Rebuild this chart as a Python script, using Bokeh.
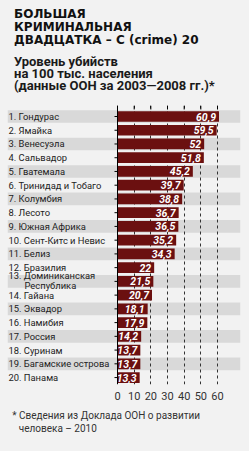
from bokeh.plotting import figure
from bokeh.layouts import column
from bokeh.models import Range1d, FixedTicker, ColumnDataSource
from bokeh.core.properties import value
from bokeh.embed import file_html
from bokeh.resources import INLINE

# ---------------- data ----------------
title_lines = ["БОЛЬШАЯ", "КРИМИНАЛЬНАЯ", "ДВАДЦАТКА – С (crime) 20"]
subtitle_lines = ["Уровень убийств", "на 100 тыс. населения",
                  "(данные ООН за 2003—2008 гг.)*"]
countries = ["Гондурас", "Ямайка", "Венесуэла", "Сальвадор", "Гватемала",
             "Тринидад и Тобаго", "Колумбия", "Лесото", "Южная Африка",
             "Сент-Китс и Невис", "Белиз", "Бразилия",
             "Доминиканская\nРеспублика", "Гайана", "Эквадор", "Намибия",
             "Россия", "Суринам", "Багамские острова", "Панама"]
rates = [60.9, 59.5, 52, 51.8, 45.2, 39.7, 38.8, 36.7, 36.5, 35.2, 34.3,
         22, 21.5, 20.7, 18.1, 17.9, 14.2, 13.7, 13.7, 13.3]
x_ticks = [0, 10, 20, 30, 40, 50, 60]
footnote_lines = ["* Сведения из Доклада ООН о развитии", "человека – 2010"]

# ---------------- style ----------------
BG = "#f2f2f2"
STRIPE = "#d9d9d9"
BAR = "#6b1010"
TXT = "#222222"
NARROW = value("Roboto")
W = 249
HEADER_H = 105
CHART_H = 299
FOOTER_H = 451 - HEADER_H - CHART_H
BOTTOM_PANEL = 20

def bare(fig):
    fig.axis.visible = False
    fig.grid.visible = False
    fig.outline_line_color = None
    fig.background_fill_color = BG
    fig.border_fill_color = BG
    fig.min_border = 0
    return fig

# ---------------- header ----------------
header = bare(figure(width=W, height=HEADER_H, x_range=Range1d(0, W),
                     y_range=Range1d(HEADER_H, 0), output_backend="svg",
                     toolbar_location=None, x_axis_location=None,
                     y_axis_location=None))
header.text(x=[7] * 3, y=[13, 26, 39], text=title_lines,
            text_font=value("DejaVu Sans"), text_font_style="bold",
            text_font_size="12px", text_color="#111111",
            text_baseline="middle", text_align="left")
header.text(x=[7] * 3, y=[61, 73, 85], text=subtitle_lines,
            text_font=value("Roboto"), text_font_style="bold",
            text_font_size="13px", text_color="#1a1a1a",
            text_baseline="middle", text_align="left")

# ---------------- chart ----------------
n = len(countries)
rows = list(range(1, n + 1))
px_per_unit = 100 / 60.0          # 10 units ~ 16.7 px
x0 = -110 / px_per_unit
x1 = 123 / px_per_unit
pitch = 13.74
frame_h = CHART_H - BOTTOM_PANEL
y_top = 1 - 11 / pitch
y_bot = y_top + frame_h / pitch

p = figure(width=W, height=CHART_H, x_range=Range1d(x0, x1),
           y_range=Range1d(y_bot, y_top), output_backend="svg",
           toolbar_location=None, y_axis_location=None)
p.min_border_left = 7
p.min_border_right = 9
p.min_border_top = 0
p.min_border_bottom = BOTTOM_PANEL
p.outline_line_color = None
p.background_fill_color = BG
p.border_fill_color = BG
p.ygrid.visible = False
p.xgrid.ticker = FixedTicker(ticks=[t for t in x_ticks if t > 0])
p.xgrid.grid_line_color = "#333333"
p.xgrid.grid_line_dash = "3 3"
p.xgrid.grid_line_width = 1

# x axis (bottom) labels only
p.xaxis.ticker = FixedTicker(ticks=x_ticks)
p.xaxis.axis_line_color = None
p.xaxis.major_tick_line_color = None
p.xaxis.minor_tick_line_color = None
p.xaxis.major_label_standoff = 1
p.xaxis.major_label_text_font = "Roboto"
p.xaxis.major_label_text_font_size = "11px"
p.xaxis.major_label_text_color = "#333333"

# stripes on odd rows
odd = [r for r in rows if r % 2 == 1]
stripes = p.rect(x=[(x0 + x1) / 2] * len(odd), y=odd, width=x1 - x0,
                 height=0.92, fill_color=STRIPE, line_color=None)
stripes.level = "image"

# bars
p.hbar(y=rows, left=0, right=rates, height=0.78, fill_color=BAR,
       line_color=None)

# value labels
vals = [f"{v:g}".replace(".", ",") for v in rates]
p.text(x=rates, y=rows, text=vals, x_offset=-3, text_font=NARROW,
       text_font_style="bold italic", text_font_size="10.5px",
       text_color="white", text_align="right", text_baseline="middle")

# category labels (left aligned at frame edge)
lab_x, lab_y, lab_t, lab_off = [], [], [], []
for i, name in zip(rows, countries):
    parts = name.split("\n")
    if len(parts) == 1:
        lab_x.append(x0); lab_y.append(i); lab_t.append(f"{i}. {name}"); lab_off.append(1)
    else:
        lab_x.append(x0); lab_y.append(i - 0.45); lab_t.append(f"{i}. {parts[0]}"); lab_off.append(1)
        lab_x.append(x0); lab_y.append(i + 0.33); lab_t.append(parts[1]); lab_off.append(17)
src = ColumnDataSource(dict(x=lab_x, y=lab_y, text=lab_t, off=lab_off))
p.text(x="x", y="y", text="text", x_offset="off", source=src,
       text_font=NARROW, text_font_size="9.4px", text_color=TXT,
       text_align="left", text_baseline="middle")

# left axis line with row ticks, and top ticks
tick_len = 3 / px_per_unit
p.segment(x0=[0], y0=[y_top], x1=[0], y1=[n + 0.5], line_color="black",
          line_width=1)
p.segment(x0=[-tick_len] * n, y0=rows, x1=[0] * n, y1=rows,
          line_color="black", line_width=1)
top_len = 4 / pitch
p.segment(x0=x_ticks, y0=[y_top] * len(x_ticks), x1=x_ticks,
          y1=[y_top + top_len] * len(x_ticks), line_color="black",
          line_width=1)

# ---------------- footer ----------------
footer = bare(figure(width=W, height=FOOTER_H, x_range=Range1d(0, W),
                     y_range=Range1d(FOOTER_H, 0), output_backend="svg",
                     toolbar_location=None, x_axis_location=None,
                     y_axis_location=None))
footer.text(x=[5, 12], y=[11, 24], text=footnote_lines, text_font=NARROW,
            text_font_size="10px", text_color="#333333",
            text_baseline="middle", text_align="left")

layout = column(header, p, footer, spacing=0)
layout.background = BG
open("out.html", "w").write(file_html(layout, INLINE))
